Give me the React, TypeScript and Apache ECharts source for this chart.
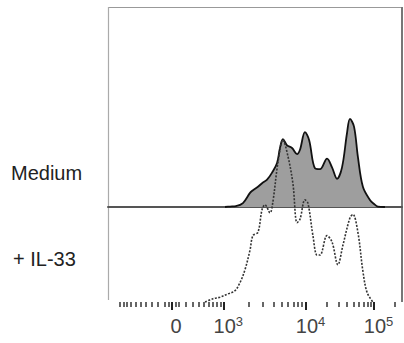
import React, { useEffect, useRef } from "react";
import * as echarts from "echarts";

// Histogram bins: x in display channels (0..1000 across the plot), y = % of mode
const MEDIUM_X = [398, 415, 435, 459, 483, 493, 510, 524, 541, 558, 575, 585, 595, 609, 626, 643, 653, 670, 684, 704, 721, 745, 762, 779, 796, 813, 823, 837, 850, 867, 891, 905, 918, 942];
const MEDIUM_Y = [0, 0.5, 1, 4.5, 16, 19, 23, 27, 31, 39, 50, 67, 77, 70, 67, 60, 65, 85, 76, 44, 43, 55, 45, 32, 45, 84, 100, 91, 57, 23, 8, 3.4, 0.5, 0];

const IL33_X = [330, 357, 381, 408, 432, 449, 466, 483, 493, 510, 524, 534, 551, 561, 578, 595, 612, 629, 643, 653, 670, 680, 697, 711, 721, 745, 762, 782, 799, 823, 833, 850, 867, 881, 901];
const IL33_Y = [0, 2, 3, 5, 7, 12, 20, 32, 41, 43, 57, 60, 55, 62, 86, 100, 90, 73, 49, 51, 63, 61, 41, 29, 29, 41, 37, 23, 35, 52, 54, 43, 19, 6, 0];

const SAMPLE_LABELS = ["Medium", "+ IL-33"];

// Axis ticks in fluorescence intensity
const MAJOR_TICKS = [0, 1000, 10000, 100000];
const MAJOR_LABELS = ["{pad|}0", "{pad2|}10{sup|3}", "{pad2|}10{sup|4}", "{pad2|}10{sup|5}"];
const MINOR_TICKS = [
  -1000, -900, -800, -700, -600, -500, -400, -300, -200, -100, -50,
  50, 100, 200, 300, 400, 500, 600, 700, 800, 900,
  2000, 3000, 4000, 5000, 6000, 7000, 8000, 9000,
  20000, 30000, 40000, 50000, 60000, 70000, 80000, 90000,
  200000,
];

// biexponential-like display transform: intensity -> channel (0..1000)
function toChannel(v: number): number {
  let px: number;
  if (v <= 1000) px = 172 + 35.6 * Math.asinh(v / 493);
  else if (v <= 10000) px = 224 + Math.log10(v / 1000) * 82;
  else if (v <= 100000) px = 306 + Math.log10(v / 10000) * 68;
  else px = 374 + Math.log10(v / 100000) * 68;
  return ((px - 108) / 294) * 1000;
}

export default function App() {
  const ref = useRef<HTMLDivElement>(null);
  useEffect(() => {
    if (!ref.current) return;
    const chart = echarts.init(ref.current, undefined, { renderer: "svg" });
    const majorCh = MAJOR_TICKS.map(toChannel);
    const minorCh = MINOR_TICKS.map(toChannel);
    const labelFor = (val: number) => {
      let best = 0;
      let bd = Infinity;
      majorCh.forEach((c, i) => {
        const d = Math.abs(c - val);
        if (d < bd) { bd = d; best = i; }
      });
      return MAJOR_LABELS[best];
    };
    const font = "'Liberation Sans', Arial, sans-serif";
    chart.setOption({
      animation: false,
      grid: [
        { left: 108, top: 7, width: 294, height: 200 },
        { left: 108, top: 7, width: 294, height: 295 },
      ],
      xAxis: [
        {
          gridIndex: 0, type: "value", min: 0, max: 1000,
          axisLine: { show: true, onZero: false, lineStyle: { color: "#555", width: 2 } },
          axisTick: { show: false }, axisLabel: { show: false }, splitLine: { show: false },
        },
        {
          gridIndex: 1, type: "value", min: 0, max: 1000,
          axisLine: { show: false, onZero: false },
          axisTick: { show: true, customValues: majorCh, length: 8, lineStyle: { color: "#222", width: 2 } },
          axisLabel: {
            show: true, customValues: majorCh, margin: 13,
            formatter: (v: number) => labelFor(v),
            color: "#444", fontFamily: font, fontSize: 20, lineHeight: 22,
            rich: {
              pad: { width: 8, fontSize: 20 },
              pad2: { width: 9, fontSize: 20 },
              sup: { fontSize: 13, verticalAlign: "top", lineHeight: 22, color: "#444", fontFamily: font, padding: [0, 0, 8, 0] },
            },
          },
          splitLine: { show: false },
        },
        {
          gridIndex: 1, type: "value", min: 0, max: 1000, offset: 0, position: "bottom",
          axisLine: { show: false, onZero: false },
          axisTick: { show: true, customValues: minorCh, length: 5, lineStyle: { color: "#333", width: 1.5 } },
          axisLabel: { show: false }, splitLine: { show: false },
        },
      ],
      yAxis: [
        { gridIndex: 0, type: "value", min: 0, max: 227, show: false },
        { gridIndex: 1, type: "value", min: 0, max: 182, show: false },
      ],
      series: [
        {
          name: SAMPLE_LABELS[0], type: "line", xAxisIndex: 0, yAxisIndex: 0,
          data: MEDIUM_X.map((x, i) => [x, MEDIUM_Y[i]]),
          smooth: 0.35, showSymbol: false, symbol: "none", z: 2,
          lineStyle: { color: "#111", width: 1.8 },
          areaStyle: { color: "#9e9e9e", opacity: 1 },
        },
        {
          name: SAMPLE_LABELS[1], type: "line", xAxisIndex: 1, yAxisIndex: 1,
          data: IL33_X.map((x, i) => [x, IL33_Y[i]]),
          smooth: 0.35, showSymbol: false, symbol: "none", z: 5, clip: false,
          lineStyle: { color: "#333", width: 1.6, type: [2, 1.5] },
        },
      ],
      graphic: [
        { type: "line", shape: { x1: 108, y1: 7.5, x2: 402, y2: 7.5 }, style: { stroke: "#999", lineWidth: 1.2 } },
        { type: "line", shape: { x1: 108.5, y1: 7, x2: 108.5, y2: 300 }, style: { stroke: "#aaa", lineWidth: 1.2 } },
        { type: "line", shape: { x1: 402, y1: 7, x2: 402, y2: 302 }, style: { stroke: "#777", lineWidth: 2 } },
        { type: "text", x: 11, y: 173, style: { text: SAMPLE_LABELS[0], font: `20px ${font}`, fill: "#222", textVerticalAlign: "middle" } },
        { type: "text", x: 13, y: 259, style: { text: SAMPLE_LABELS[1], font: `20px ${font}`, fill: "#222", textVerticalAlign: "middle" } },
      ],
    });
    return () => chart.dispose();
  }, []);
  return <div ref={ref} style={{ position: "absolute", left: 0, top: 0, width: 404, height: 343 }} />;
}
